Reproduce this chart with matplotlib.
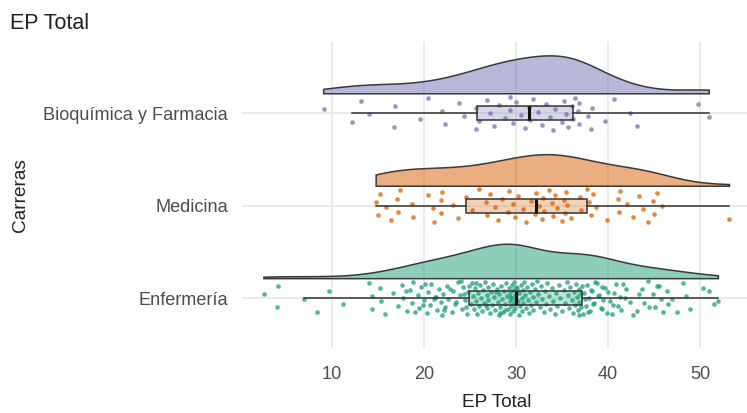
import numpy as np
import matplotlib
matplotlib.use("Agg")
import matplotlib.pyplot as plt

# ---------------- data ----------------
categories = ["Enfermería", "Medicina", "Bioquímica y Farmacia"]
colors = ["#1B9E77", "#D95F02", "#7570B3"]

enfermeria = [
    2.6, 4.0, 4.1,
    7.0, 8.4, 9.7, 11.2, 14.0, 14.3, 14.4, 15.2, 15.3, 15.8, 16.6,
    17.2, 17.6, 17.7, 18.1, 18.5, 18.7, 18.8, 19.3, 19.5, 19.7, 20.0, 20.3, 20.4,
    20.6, 20.8, 21.2, 21.4, 21.6, 21.8, 22.0, 22.1, 22.3, 22.5, 22.6, 23.0, 23.2,
    23.4, 23.7, 23.9, 24.1, 24.2, 24.5, 24.7, 24.8,
    19.9, 20.1, 21.3, 22.2, 22.8, 23.5, 24.0, 24.4, 24.6, 24.9, 21.1, 19.0, 18.0,
    25.1, 25.2, 25.3, 25.4, 25.5, 25.7, 25.8, 25.9, 26.0, 26.1, 26.2, 26.3, 26.4,
    26.5, 26.6, 26.8, 26.9, 27.0, 27.0, 27.2, 27.3, 27.4, 27.5, 27.6, 27.7, 27.9,
    28.0, 28.1, 28.2, 28.3, 28.4, 28.5, 28.6, 28.7, 28.8, 28.9, 29.0, 29.1, 29.2,
    29.3, 29.3, 29.4, 29.5, 29.6, 29.6, 29.7, 29.7, 29.8, 29.8, 29.9, 29.9, 30.0,
    30.0, 28.3, 27.8, 26.7, 25.6, 29.4, 28.8,
    30.1, 30.2, 30.3, 30.3, 30.4, 30.5, 30.6, 30.7, 30.8, 30.8, 30.9, 31.0, 31.1,
    31.2, 31.3, 31.4, 31.5, 31.6, 31.7, 31.8, 31.9, 32.1, 32.2, 32.3, 32.4, 32.6,
    32.7, 32.8, 33.0, 33.1, 33.3, 33.4, 33.6, 33.7, 33.9, 34.0, 34.2, 34.4, 34.5,
    34.7, 34.8, 35.0, 35.2, 35.3, 35.5, 35.6, 35.8, 35.9, 36.1, 36.2, 36.3, 36.4,
    36.5, 36.6, 36.7, 36.8, 36.9, 36.9, 37.0, 37.1,
    37.2, 37.5, 37.8, 38.3, 38.4, 38.8, 38.9, 39.3, 39.7, 40.2, 40.4, 40.7, 41.1,
    41.6, 41.8, 43.2, 43.7, 43.9, 44.4, 44.9, 45.1, 45.5, 45.8, 46.0, 46.4, 46.5,
    48.1, 48.5, 48.9, 50.3, 52.0,
    37.3, 37.4, 37.6, 37.7, 37.9, 38.0, 38.2, 38.5, 38.6, 39.0, 39.2, 39.4, 39.5,
    39.9, 40.0, 40.5, 40.9, 41.3, 41.4, 42.0, 42.4, 42.7, 43.4, 44.5, 45.3, 47.0,
    47.5, 51.0, 51.5,
]

medicina = [
    14.8, 15.0, 15.2, 15.9, 16.4, 17.1, 17.2, 17.4, 18.7, 18.8,
    20.4, 21.0, 21.1, 21.8, 21.9, 22.0, 23.1, 23.7, 24.6, 25.2,
    26.0, 26.7, 26.9, 27.2, 27.7, 28.0, 28.5, 29.1, 29.2, 29.7,
    29.9, 30.2, 30.8, 31.1, 31.6, 32.1, 32.2, 32.5, 32.8, 32.9,
    33.0, 33.6, 33.9, 34.0, 34.2, 34.5, 35.0, 35.2, 35.3, 35.4,
    35.5, 36.0, 37.0, 37.1, 37.7, 37.9, 38.1, 38.4, 38.7, 39.9,
    41.1, 41.2, 41.3, 42.1, 42.7, 43.4, 43.8, 44.4, 44.9, 45.0,
    45.3, 45.9, 53.2,
]

bioquimica = [
    9.1, 12.2, 13.1, 14.0, 16.7, 16.9, 19.6, 20.4, 22.0, 22.3,
    23.8, 24.4, 25.6, 25.7, 26.0, 26.8, 27.2, 27.6, 28.2, 28.8,
    29.4, 29.4, 29.7, 30.0, 30.5, 31.0, 31.4, 31.5, 31.9, 32.4,
    32.8, 33.3, 33.7, 34.0, 34.2, 35.0, 35.2, 35.4, 35.7, 36.1,
    36.2, 36.4, 36.7, 36.8, 36.9, 37.8, 38.1, 38.3, 39.7, 40.6,
    42.4, 43.1, 49.8, 51.0,
]

series = [enfermeria, medicina, bioquimica]
x_ticks = [10, 20, 30, 40, 50]

# ---------------- figure ----------------
W, H = 747, 413
fig = plt.figure(figsize=(W / 100, H / 100), dpi=100)
font = "Liberation Sans"
plt.rcParams["font.family"] = [font, "DejaVu Sans"]

left, right, top, bottom = 242, 752, 42, 348
ax = fig.add_axes([left / W, 1 - bottom / H, (right - left) / W, (bottom - top) / H])
ax.set_xlim(0.22, 55.65)
ax.set_ylim(0.46, 3.77)

for s in ax.spines.values():
    s.set_visible(False)
ax.set_xticks(x_ticks)
ax.set_yticks([1, 2, 3])
ax.set_yticklabels(categories)
ax.tick_params(length=0, labelsize=13.1, labelcolor="#4d4d4d")
ax.tick_params(axis="x", pad=13)
ax.tick_params(axis="y", pad=10)
ax.grid(True, color="#e8e8e8", lw=1.2, zorder=0)
ax.set_axisbelow(True)


def kde(vals, grid):
    v = np.asarray(vals, float)
    n = len(v)
    sd = v.std(ddof=1)
    iqr = np.subtract(*np.percentile(v, [75, 25]))
    bw = 0.9 * min(sd, iqr / 1.34) * n ** (-0.2)
    z = (grid[:, None] - v[None, :]) / bw
    return np.exp(-0.5 * z ** 2).sum(axis=1) / (n * bw * np.sqrt(2 * np.pi))


grids, dens = [], []
for vals in series:
    g = np.linspace(min(vals), max(vals), 512)
    grids.append(g)
    dens.append(kde(vals, g))
dmax = max(d.max() for d in dens)
vheight = 0.41
nudge = 0.21
jit = 0.185

for i, (vals, col) in enumerate(zip(series, colors)):
    pos = i + 1
    g, d = grids[i], dens[i]
    base = pos + nudge
    yy = base + d / dmax * vheight
    px = np.concatenate([g, g[::-1]])
    py = np.concatenate([yy, np.full_like(g, base)])
    ax.fill(px, py, facecolor=col, alpha=0.5, edgecolor="none", zorder=2)
    ax.fill(px, py, facecolor="none", edgecolor="#3a3a3a", lw=1.1, zorder=3)

    v = np.asarray(vals, float)
    k = np.arange(1, len(v) + 1)
    offs = ((k * 0.6180339887) % 1.0 - 0.5) * 2 * jit
    ax.scatter(v, pos + offs, s=11, color=col, alpha=0.75, linewidths=0, zorder=4)

    bp = ax.boxplot([v], positions=[pos], widths=0.15, vert=False, showfliers=False,
                    patch_artist=True, showcaps=False, manage_ticks=False)
    for b in bp["boxes"]:
        b.set_facecolor(matplotlib.colors.to_rgba(col, 0.28))
        b.set_edgecolor("#333333")
        b.set_linewidth(1.1)
        b.set_zorder(5)
    for w in bp["whiskers"]:
        w.set_color("#333333")
        w.set_linewidth(1.1)
        w.set_zorder(5)
    for m in bp["medians"]:
        m.set_color("#111111")
        m.set_linewidth(2.2)
        m.set_zorder(6)

ax.set_xlabel("EP Total", fontsize=13.7, color="#222222", labelpad=8)
ax.set_ylabel("Carreras", fontsize=13.7, color="#222222", labelpad=10)
fig.text(10 / W, 1 - 13 / H, "EP Total", fontsize=15.5, color="#222222", va="top", ha="left")

fig.savefig("out.png", dpi=100)
